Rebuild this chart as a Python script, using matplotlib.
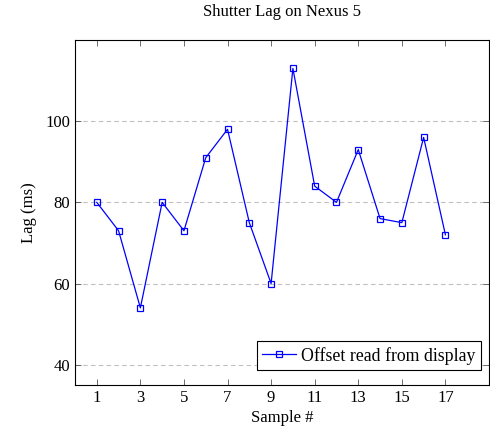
import matplotlib
matplotlib.use("Agg")
import matplotlib.pyplot as plt

# data
samples = [1, 2, 3, 4, 5, 6, 7, 8, 9, 10, 11, 12, 13, 14, 15, 16, 17]
lag_ms = [80, 73, 54, 80, 73, 91, 98, 75, 60, 113, 84, 80, 93, 76, 75, 96, 72]
x_ticks = [1, 3, 5, 7, 9, 11, 13, 15, 17]
y_ticks = [40, 60, 80, 100]

plt.rcParams['font.family'] = ['Liberation Serif', 'DejaVu Serif']
plt.rcParams['mathtext.fontset'] = 'stix'

fig = plt.figure(figsize=(4.90, 4.34), dpi=100)
ax = fig.add_axes([75/490, 1 - 385/434, (489-75)/490, (385-40)/434])

ax.plot(samples, lag_ms, color='blue', lw=0.9, marker='s', markersize=5,
        markerfacecolor='none', markeredgecolor='blue', markeredgewidth=0.9,
        label='Offset read from display')

ax.set_xlim(0, 19)
ax.set_ylim(35, 120)
ax.set_xticks(x_ticks)
ax.set_yticks(y_ticks)
ax.yaxis.grid(True, color='#c0c0c0', linestyle=(0, (4, 3)), lw=0.8)
ax.set_axisbelow(True)
ax.tick_params(direction='in', top=True, right=True, length=4, width=0.6,
               color='#555555', labelsize=12)
for s in ax.spines.values():
    s.set_linewidth(0.8)

ax.set_title('Shutter Lag on Nexus 5', fontsize=12, pad=17)
ax.set_xlabel('Sample #', fontsize=12, labelpad=3)
ax.set_ylabel('Lag (ms)', fontsize=12, labelpad=6)

leg = ax.legend(loc='lower right', bbox_to_anchor=(1 - 8/414, 15/345),
                fontsize=12.8, fancybox=False, framealpha=1,
                edgecolor='black', borderpad=0.3, handlelength=1.9,
                handletextpad=0.3, borderaxespad=0)
leg.get_frame().set_linewidth(0.8)

fig.savefig('out.png', dpi=100)
